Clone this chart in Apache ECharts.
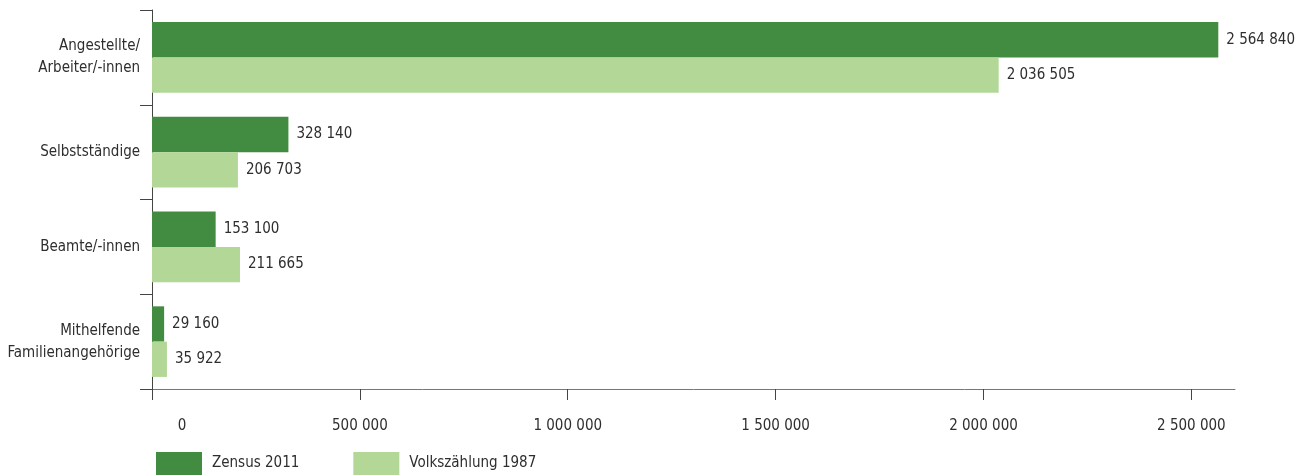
<!DOCTYPE html>
<html>
<head>
<meta charset="utf-8">
<script src="https://cdn.jsdelivr.net/npm/echarts@6/dist/echarts.min.js"></script>
<style>
html,body{margin:0;padding:0;background:#fff;}
#chart{width:1309px;height:475px;}
</style>
</head>
<body>
<div id="chart"></div>
<script>
const categories = ['Angestellte/\nArbeiter/-innen', 'Selbstständige', 'Beamte/-innen', 'Mithelfende\nFamilienangehörige'];
const seriesNames = ['Zensus 2011', 'Volkszählung 1987'];
const zensus2011 = [2564840, 328140, 153100, 29160];
const volkszaehlung1987 = [2036505, 206703, 211665, 35922];
const xMin = 0, xMax = 2605000, xInterval = 500000;

const FONT = '"DejaVu Sans Condensed", "Liberation Sans", sans-serif';
const FS = 15;
const TXT = '#2e2e2e';
function fmt(v) { return String(v).replace(/\B(?=(\d{3})+(?!\d))/g, ' '); }

const chart = echarts.init(document.getElementById('chart'), null, {renderer: 'canvas'});
chart.setOption({
  animation: false,
  backgroundColor: '#ffffff',
  textStyle: {fontFamily: FONT},
  grid: {left: 152, right: 74, top: 10, bottom: 86, containLabel: false, outerBoundsMode: 'none'},
  legend: {
    left: 156, top: 452, orient: 'horizontal', padding: 0,
    itemWidth: 46, itemHeight: 23, itemGap: 54, icon: 'rect',
    textStyle: {fontFamily: FONT, fontSize: FS, color: TXT, padding: [0, 0, 0, 5]},
    data: seriesNames
  },
  xAxis: {
    type: 'value', min: xMin, max: xMax, interval: xInterval,
    axisLine: {show: true, lineStyle: {color: '#777777', width: 1}},
    axisTick: {show: true, length: 11, inside: false, lineStyle: {color: '#444444', width: 1}},
    splitLine: {show: false},
    axisLabel: {
      margin: 30, fontFamily: FONT, fontSize: FS, color: TXT, showMaxLabel: false,
      formatter: function (v) { return v === 0 ? '{z|0}' : (v > 2500000 ? '' : fmt(v)); },
      rich: {z: {padding: [0, 0, 0, 60], fontFamily: FONT, fontSize: FS, color: TXT}}
    }
  },
  yAxis: {
    type: 'category', data: categories, inverse: true,
    axisLine: {show: true, lineStyle: {color: '#444444', width: 1}},
    axisTick: {show: true, length: 12, lineStyle: {color: '#444444', width: 1}},
    axisLabel: {margin: 12, fontFamily: FONT, fontSize: FS, color: TXT, lineHeight: 22, align: 'right'}
  },
  series: [
    {
      name: seriesNames[0], type: 'bar', data: zensus2011,
      barGap: '0%', barCategoryGap: '25.5%',
      itemStyle: {color: '#428c41'},
      label: {show: true, position: 'right', distance: 8, fontFamily: FONT, fontSize: FS, color: TXT, formatter: p => fmt(p.value)}
    },
    {
      name: seriesNames[1], type: 'bar', data: volkszaehlung1987,
      barGap: '0%', barCategoryGap: '25.5%',
      itemStyle: {color: '#b2d797'},
      label: {show: true, position: 'right', distance: 8, fontFamily: FONT, fontSize: FS, color: TXT, formatter: p => fmt(p.value)}
    }
  ]
});
</script>
</body>
</html>
